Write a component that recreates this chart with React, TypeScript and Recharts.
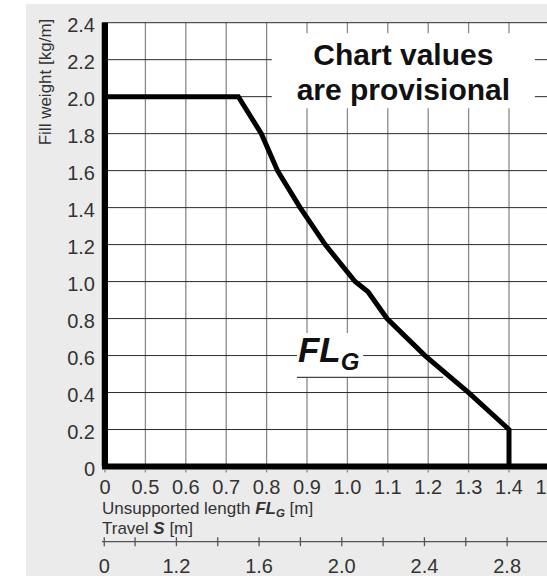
import { LineChart, Line, XAxis, YAxis, CartesianGrid, ReferenceArea, ReferenceLine } from 'recharts'

// curve: unsupported length FL_G [m] -> fill weight [kg/m]
const flLength = [0, 0.73, 0.787, 0.827, 0.883, 0.945, 1.019, 1.051, 1.098, 1.192, 1.3, 1.4, 1.4]
const fillWeight = [2.0, 2.0, 1.8, 1.6, 1.4, 1.2, 1.0, 0.945, 0.8, 0.6, 0.4, 0.2, 0]

const flTicks = [0, 0.5, 0.6, 0.7, 0.8, 0.9, 1.0, 1.1, 1.2, 1.3, 1.4, 1.5]
const weightTicks = [0, 0.2, 0.4, 0.6, 0.8, 1.0, 1.2, 1.4, 1.6, 1.8, 2.0, 2.2, 2.4]
const travelTicks = [0, 1.0, 1.2, 1.4, 1.6, 1.8, 2.0, 2.2, 2.4, 2.6, 2.8, 3.0]
const travelLabelled = [0, 1.2, 1.6, 2.0, 2.4, 2.8]

// both x scales are broken: FL jumps 0 -> 0.5, travel jumps 0 -> 1.0
const FL_BREAK = 0.4
const TRAVEL_BREAK = 0.851
const flPos = (v: number) => (v === 0 ? FL_BREAK : v)
const travelPos = (v: number) => (v === 0 ? TRAVEL_BREAK : v)

const rows = flLength.map((v, i) => ({ pos: flPos(v), weight: fillWeight[i] }))

const FONT = '"Liberation Sans", Arial, sans-serif'
const INK = '#333'

const num = (v: number) => (v === 0 ? '0' : v.toFixed(1))

function FlTick({ x, y, payload }: any) {
  const v = payload.value === FL_BREAK ? 0 : payload.value
  return (
    <g>
      <line x1={x} x2={x} y1={y + 3} y2={y + 6} stroke="#888" strokeWidth={1.3} />
      <text x={x} y={y + 27.5} textAnchor="middle" fontSize={20} fill={INK}>
        {num(v)}
      </text>
    </g>
  )
}

function TravelTick({ x, y, payload }: any) {
  const v = payload.value === TRAVEL_BREAK ? 0 : payload.value
  const labelled = travelLabelled.some((t) => Math.abs(t - v) < 1e-6)
  return (
    <g>
      <line x1={x} x2={x} y1={y - 4.5} y2={y + 4.5} stroke="#555" strokeWidth={1.3} />
      {labelled && (
        <text x={x} y={y + 31.3} textAnchor="middle" fontSize={20} fill={INK}>
          {num(v)}
        </text>
      )}
    </g>
  )
}

function WeightTitle({ viewBox }: any) {
  const cx = viewBox.x + 19
  const cy = viewBox.y + 59.3
  return (
    <text x={cx} y={cy} transform={`rotate(-90 ${cx} ${cy})`} textAnchor="middle"
      dominantBaseline="central" fontSize={17} fill={INK}>
      Fill weight [kg/m]
    </text>
  )
}

function LengthTitle({ viewBox }: any) {
  const x = viewBox.x
  return (
    <g fontSize={17} fill={INK}>
      <text x={x} y={viewBox.y + 47}>
        Unsupported length{' '}
        <tspan fontWeight="bold" fontStyle="italic">FL</tspan>
        <tspan fontWeight="bold" fontStyle="italic" fontSize={11.5} dy={3}>G</tspan>
        <tspan dy={-3}> [m]</tspan>
      </text>
      <text x={x} y={viewBox.y + 67}>
        Travel <tspan fontWeight="bold" fontStyle="italic">S</tspan> [m]
      </text>
    </g>
  )
}

function NoteText({ viewBox }: any) {
  const cx = viewBox.x + viewBox.width / 2
  return (
    <g fontSize={30} fontWeight="bold" fill="#111" textAnchor="middle">
      <text x={cx} y={viewBox.y + 32}>Chart values</text>
      <text x={cx} y={viewBox.y + 67}>are provisional</text>
    </g>
  )
}

function CurveName({ viewBox }: any) {
  return (
    <text x={viewBox.x + 1} y={viewBox.y + 28.7} fontWeight="bold" fontStyle="italic" fill="#111">
      <tspan fontSize={35}>FL</tspan>
      <tspan fontSize={24} dy={8}>G</tspan>
    </text>
  )
}

export default function App() {
  return (
    <div
      style={{
        position: 'fixed',
        left: 26,
        top: 4,
        width: 521,
        height: 572,
        overflow: 'hidden',
        background: '#ebebeb',
        fontFamily: FONT,
      }}
    >
      <LineChart width={600} height={572} data={rows} margin={{ top: 18.7, right: 36.2, bottom: 0, left: 0 }}>
        <CartesianGrid xAxisId="fl" horizontal={false} fill="#fff" stroke="#8a8a8a" strokeWidth={1.3} />
        <CartesianGrid xAxisId="fl" vertical={false} stroke="#2a2a2a" strokeWidth={1} />
        <XAxis
          xAxisId="fl"
          dataKey="pos"
          type="number"
          domain={[FL_BREAK, 1.6]}
          allowDataOverflow
          ticks={flTicks.map(flPos)}
          interval={0}
          padding={{ left: 3, right: 0 }}
          height={75.2}
          tickSize={0}
          tickMargin={0}
          tickLine={false}
          axisLine={{ stroke: '#000', strokeWidth: 6 }}
          tick={<FlTick />}
          label={LengthTitle}
        />
        <XAxis
          xAxisId="travel"
          dataKey="pos"
          type="number"
          domain={[0.84, 3.2]}
          allowDataOverflow
          ticks={travelTicks.map(travelPos)}
          interval={0}
          height={34.3}
          tickSize={0}
          tickMargin={0}
          tickLine={false}
          axisLine={{ stroke: '#555', strokeWidth: 1.3 }}
          tick={<TravelTick />}
        />
        <YAxis
          type="number"
          domain={[0, 2.4]}
          allowDataOverflow
          ticks={weightTicks}
          interval={0}
          width={76}
          tickSize={0}
          tickMargin={7}
          tickLine={false}
          axisLine={false}
          tick={{ fontSize: 20, fill: INK, dy: 2 }}
          tickFormatter={num}
          label={WeightTitle}
        />
        <ReferenceArea xAxisId="fl" x1={0.813} x2={1.464} y1={1.938} y2={2.343}
          fill="#fff" fillOpacity={1} stroke="none" label={NoteText} />
        <ReferenceArea xAxisId="fl" x1={0.875} x2={1.039} y1={0.484} y2={0.722}
          fill="#fff" fillOpacity={1} stroke="none" label={CurveName} />
        <ReferenceLine xAxisId="fl" segment={[{ x: 0.875, y: 0.482 }, { x: 1.237, y: 0.482 }]}
          stroke="#444" strokeWidth={1.3} />
        <ReferenceLine xAxisId="fl" x={FL_BREAK} stroke="#000" strokeWidth={6} />
        <Line
          xAxisId="fl"
          dataKey="weight"
          type="linear"
          stroke="#000"
          strokeWidth={5}
          dot={false}
          activeDot={false}
          isAnimationActive={false}
        />
      </LineChart>
    </div>
  )
}
